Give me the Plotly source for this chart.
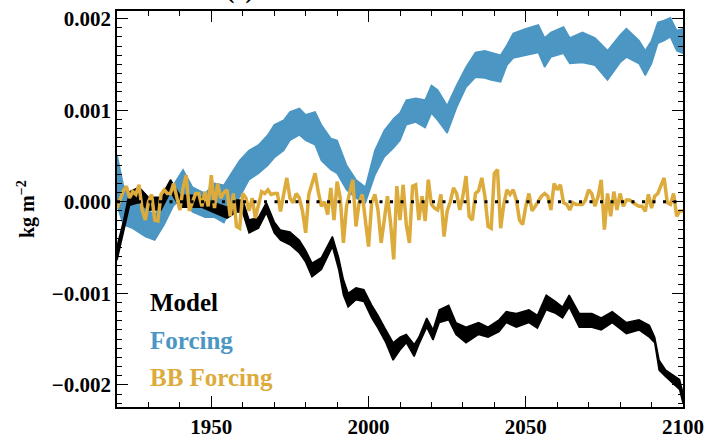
import numpy as np
import plotly.graph_objects as go

SCALE = 1e-4  # values below are in units of 1e-4 kg m-2

# BB Forcing (annual)
bb_years = list(range(1920, 2101))
bb_vals = [
    -0.7, 0.4, 1.2, 1.7, 0.4, 1.1, 0.8, 1.85, -0.9, -2.0,
    0.0, 0.8, -2.0, -2.1, 0.8, 1.3, 0.9, 0.9, 2.0, 0.5,
    -0.9, 1.5, 2.9, -1.0, 0.0, 0.9, 0.9, -0.5, 1.1, -0.5,
    2.9, -0.7, 2.0, 0.4, 1.0, 1.3, -1.6, 0.9, -2.7, -2.9,
    0.9, 0.4, -1.0, 0.4, -1.8, -0.5, 1.1, 0.9, 1.3, 0.8,
    0.9, 0.9, -1.05, 0.8, 2.6, 0.4, -0.1, 0.9, 0.4, -1.05,
    -3.4, 0.8, 2.0, 3.1, 1.1, -0.5, 0.0, -1.4, 1.5, -2.0,
    2.2, 0.4, -4.5, -0.5, 1.0, 2.4, -2.7, -0.1, 0.8, -2.3,
    -4.9, -0.1, 0.8, -0.9, -4.5, -2.0, 0.6, -2.3, -6.3, 1.7,
    -2.0, 1.85, -2.5, -4.5, 1.7, 1.85, -2.0, 0.6, -2.1, 2.4,
    -0.3, -0.7, -0.9, 0.8, -3.8, -1.0, 0.0, 1.5, 0.9, -0.9,
    0.6, 2.8, -1.6, -2.0, 0.9, 1.2, 2.6, 0.6, -2.7, -2.9,
    3.1, 3.5, -2.9, -0.3, 1.3, 0.8, 1.3, 0.2, -2.0, -2.5,
    -0.5, 0.9, -1.0, -0.5, 0.0, 0.6, 0.9, 0.6, -0.9, 2.0,
    1.3, 1.85, -0.1, -0.3, -0.9, -0.1, -0.3, -0.3, -0.3, 0.2,
    1.3, 0.9, -0.5, 0.6, 2.4, -3.05, 0.9, -1.6, 1.1, -0.9,
    0.9, -0.5, 0.2, 0.2, -0.1, -0.3, -0.5, -0.5, -1.05, 0.8,
    -0.7, 0.6, 0.9, 1.85, 2.6, -0.1, -0.3, 0.9, -1.6, -1.0,
    -1.0,
]

# Forcing band (upper / lower envelope)
forcing_years = [1920, 1922, 1925, 1929, 1932, 1935, 1938, 1941, 1944, 1948,
                 1951, 1954, 1956, 1959, 1962, 1965, 1968, 1970, 1973, 1975,
                 1978, 1980, 1983, 1985, 1988, 1990, 1993, 1996, 1999, 2002,
                 2005, 2008, 2010, 2012, 2015, 2018, 2020, 2022, 2025, 2028,
                 2031, 2034, 2037, 2039, 2042, 2044, 2046, 2050, 2054, 2056,
                 2058, 2062, 2064, 2068, 2072, 2076, 2080, 2082, 2086, 2088,
                 2090, 2092, 2094, 2096, 2098, 2100]
forcing_hi = [5.1, 1.8, 0.5, -0.6, -1.5, 0.2, 1.8, 3.5, 1.6, 0.9,
              2.0, 1.8, 2.9, 4.5, 5.6, 6.2, 7.3, 8.4, 8.9, 9.8,
              10.2, 9.5, 9.8, 8.4, 6.9, 6.7, 4.0, 2.4, 1.6, 5.6,
              7.8, 9.1, 9.7, 11.1, 11.3, 11.1, 12.7, 12.2, 10.5, 12.7,
              14.7, 16.3, 16.5, 16.3, 16.0, 17.1, 18.4, 18.9, 19.3, 17.9,
              18.5, 19.1, 17.9, 18.5, 17.9, 16.5, 18.2, 18.9, 17.6, 16.5,
              17.6, 19.6, 19.8, 20.1, 18.7, 18.9]
forcing_lo = [-0.4, -2.5, -2.9, -3.8, -4.2, -2.5, -0.4, 0.4, -1.1, -1.7,
              -1.7, -2.3, -0.9, 0.5, 2.4, 3.1, 4.0, 4.8, 5.6, 6.7,
              7.3, 6.7, 6.2, 4.5, 3.5, 3.1, 1.3, 0.4, -0.1, 2.9,
              4.9, 5.9, 6.7, 8.4, 8.7, 8.1, 9.7, 8.9, 7.5, 10.3,
              12.5, 13.6, 13.5, 13.3, 13.1, 14.9, 15.7, 16.0, 16.3, 14.7,
              15.8, 16.2, 15.1, 15.2, 14.9, 13.3, 15.2, 15.8, 15.1, 13.8,
              15.1, 17.3, 17.6, 18.0, 16.5, 16.2]

# Model band (upper / lower envelope)
model_years = [1920, 1922, 1924, 1927, 1930, 1934, 1937, 1940, 1944, 1947,
               1951, 1955, 1958, 1960, 1962, 1965, 1967.5, 1970, 1972, 1975,
               1978, 1980, 1982, 1985, 1988.5, 1990.5, 1992, 1993.5, 1996, 1998.5,
               2001, 2003, 2005.5, 2007.8, 2010, 2012, 2014.5, 2016, 2018.5, 2020.5,
               2022.5, 2025.5, 2027.8, 2031, 2035, 2038, 2041.5, 2043.8, 2047, 2051,
               2053.7, 2056.5, 2059.5, 2061.7, 2063.8, 2067, 2071, 2074, 2077.5, 2082,
               2086, 2089.3, 2091, 2092.4, 2094.5, 2096.6, 2098.9, 2100]
model_hi = [-4.9, -2.2, 1.1, 1.6, 0.5, 0.5, 2.4, 0.7, 0.7, 0.5,
            -0.1, -0.6, 0.2, 0.2, -2.0, -1.7, -0.1, -2.2, -3.1, -3.3,
            -4.2, -5.3, -6.7, -6.1, -3.8, -6.1, -8.5, -10.0, -9.4, -9.6,
            -11.3, -12.4, -14.0, -15.4, -14.8, -14.5, -15.6, -14.8, -12.7, -14.0,
            -11.8, -11.3, -13.2, -13.7, -13.2, -13.7, -12.9, -12.0, -12.2, -11.8,
            -12.4, -10.2, -10.9, -11.5, -10.2, -12.2, -12.2, -12.7, -12.0, -13.2,
            -12.9, -13.5, -14.8, -17.3, -18.4, -18.9, -19.4, -20.9]
model_lo = [-6.4, -3.3, -0.4, -0.1, -0.9, -0.9, 1.1, -0.6, -0.6, -0.6,
            -1.2, -1.8, -1.1, -1.2, -3.4, -2.9, -1.2, -3.4, -4.2, -4.7,
            -5.6, -6.6, -8.2, -7.4, -4.9, -7.4, -10.2, -11.5, -10.7, -10.9,
            -12.7, -13.8, -15.4, -17.3, -16.2, -15.4, -16.9, -15.6, -13.7, -15.1,
            -13.2, -12.9, -14.5, -15.4, -14.5, -14.8, -14.2, -13.2, -13.7, -13.2,
            -13.8, -11.8, -12.2, -12.7, -11.5, -13.7, -13.7, -14.0, -13.2, -14.4,
            -14.0, -14.8, -15.4, -18.4, -19.1, -19.8, -20.5, -22.0]

legend_labels = ["Model", "Forcing", "BB Forcing"]

BLUE = "#4b96c3"
GOLD = "#dcab3c"
BLACK = "#000000"
FONT = "Liberation Serif"

fig = go.Figure()


def add_band(years, lo, hi, color):
    fig.add_trace(go.Scatter(x=years, y=np.array(lo) * SCALE, mode="lines",
                             line=dict(color=color, width=1.5), hoverinfo="skip",
                             showlegend=False))
    fig.add_trace(go.Scatter(x=years, y=np.array(hi) * SCALE, mode="lines",
                             line=dict(color=color, width=1.5), fill="tonexty",
                             fillcolor=color, hoverinfo="skip", showlegend=False))


add_band(forcing_years, forcing_lo, forcing_hi, BLUE)
add_band(model_years, model_lo, model_hi, BLACK)

fig.add_trace(go.Scatter(x=bb_years, y=np.array(bb_vals) * SCALE, mode="lines",
                         line=dict(color=GOLD, width=3.5), showlegend=False))

fig.add_trace(go.Scatter(x=[1920, 2100], y=[0, 0], mode="lines",
                         line=dict(color=BLACK, width=3, dash="3px,7.5px"),
                         showlegend=False))

axis_common = dict(
    showline=True, linecolor="black", linewidth=1.5, mirror="ticks",
    ticks="inside", ticklen=11, tickwidth=1.2, tickcolor="black",
    showgrid=False, zeroline=False, automargin=False,
    tickfont=dict(family=FONT, size=21, color="black", weight="bold"),
)

fig.update_xaxes(range=[1920, 2100], tickmode="array",
                 tickvals=[1950, 2000, 2050, 2100],
                 minor=dict(ticks="inside", ticklen=5, tickwidth=1.2, tickcolor="black",
                            dtick=10, tick0=1920, showgrid=False),
                 **axis_common)
fig.update_yaxes(range=[-0.002242, 0.002083], tickmode="array",
                 tickvals=[-0.002, -0.001, 0.0, 0.001, 0.002], tickformat=".3f",
                 minor=dict(ticks="inside", ticklen=5, tickwidth=1.2, tickcolor="black",
                            dtick=0.0001, tick0=0, showgrid=False),
                 **axis_common)

legend_colors = [BLACK, BLUE, GOLD]
legend_y = [0.263, 0.167, 0.074]
for lab, col, yy in zip(legend_labels, legend_colors, legend_y):
    fig.add_annotation(x=0.055, y=yy, xref="paper", yref="paper", text=lab,
                       showarrow=False, xanchor="left", yanchor="middle",
                       font=dict(family=FONT, size=25, color=col, weight="bold"))

fig.add_annotation(x=(26 - 117) / 566, y=0.5, xref="paper", yref="paper",
                   text="kg m<sup>−2</sup>", textangle=-90, showarrow=False,
                   xanchor="center", yanchor="middle",
                   font=dict(family=FONT, size=20, color="black", weight="bold"))

fig.add_annotation(x=(240 - 117) / 566, y=1.052, xref="paper", yref="paper",
                   text="(c)", showarrow=False, xanchor="center", yanchor="middle",
                   font=dict(family=FONT, size=25, color="black", weight="bold"))

fig.update_layout(
    width=707, height=441,
    margin=dict(l=117, r=24, t=11, b=34),
    paper_bgcolor="white", plot_bgcolor="white",
    showlegend=False,
)

fig.write_html("out.html",
               config={"displayModeBar": False},
               post_script="document.body.style.margin='0';document.body.style.overflow='hidden';")
